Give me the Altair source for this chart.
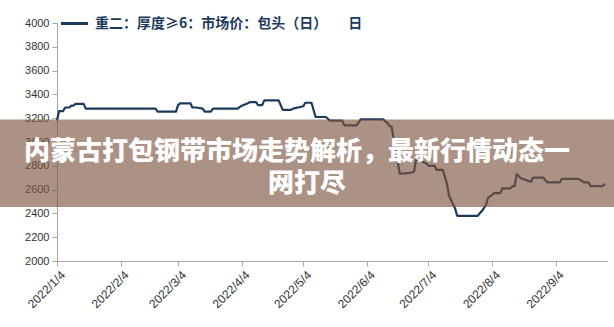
import altair as alt
import pandas as pd

# Daily market price series (yuan/ton), breakpoints of the step-like curve
dates = [
    "2022-01-04", "2022-01-05", "2022-01-07", "2022-01-08", "2022-01-10", "2022-01-11",
    "2022-01-12", "2022-01-13", "2022-01-17", "2022-01-18", "2022-02-21", "2022-02-22",
    "2022-03-03", "2022-03-04", "2022-03-05", "2022-03-10", "2022-03-11", "2022-03-13",
    "2022-03-16", "2022-03-17", "2022-03-20", "2022-03-21", "2022-04-02", "2022-04-04",
    "2022-04-07", "2022-04-08", "2022-04-11", "2022-04-12", "2022-04-14", "2022-04-15",
    "2022-04-22", "2022-04-24", "2022-04-28", "2022-04-29", "2022-05-04", "2022-05-05",
    "2022-05-08", "2022-05-10", "2022-05-15", "2022-05-17", "2022-05-23", "2022-05-24",
    "2022-05-30", "2022-06-01", "2022-06-12", "2022-06-14", "2022-06-15", "2022-06-16",
    "2022-06-20", "2022-06-21", "2022-06-25", "2022-06-27", "2022-06-28", "2022-06-29",
    "2022-07-03", "2022-07-04", "2022-07-07", "2022-07-08", "2022-07-11", "2022-07-13",
    "2022-07-14", "2022-07-17", "2022-07-18", "2022-07-28", "2022-07-30", "2022-08-01",
    "2022-08-02", "2022-08-04", "2022-08-05", "2022-08-08", "2022-08-09", "2022-08-13",
    "2022-08-14", "2022-08-15", "2022-08-16", "2022-08-18", "2022-08-23", "2022-08-24",
    "2022-08-29", "2022-08-31", "2022-09-06", "2022-09-07", "2022-09-15", "2022-09-17",
    "2022-09-18", "2022-09-20", "2022-09-21", "2022-09-27", "2022-09-28",
]
prices = [
    3180, 3260, 3260, 3290, 3290, 3305,
    3305, 3320, 3320, 3280, 3280, 3255,
    3255, 3310, 3325, 3325, 3290, 3290,
    3280, 3255, 3255, 3280, 3280, 3305,
    3325, 3335, 3335, 3310, 3310, 3350,
    3350, 3270, 3270, 3280, 3300, 3330,
    3330, 3210, 3210, 3180, 3180, 3140,
    3140, 3190, 3190, 3160, 3135, 3130,
    2735, 2735, 2740, 2750, 2860, 2850,
    2820, 2800, 2800, 2765, 2765, 2650,
    2550, 2440, 2380, 2380, 2420, 2470,
    2530, 2555, 2570, 2570, 2610, 2610,
    2630, 2630, 2730, 2695, 2665, 2700,
    2700, 2660, 2660, 2690, 2690, 2670,
    2660, 2660, 2630, 2630, 2650,
]

series_name = "重二：厚度≥6：市场价：包头（日）\u3000\u3000日"
x_start, x_end = "2022-01-04", "2022-09-29"
tick_dates = ["2022-01-04", "2022-02-04", "2022-03-04", "2022-04-04", "2022-05-04",
              "2022-06-04", "2022-07-04", "2022-08-04", "2022-09-04"]
y_ticks = [2000, 2200, 2400, 2600, 2800, 3000, 3200, 3400, 3600, 3800, 4000]
banner_lines = ["内蒙古打包钢带市场走势解析，最新行情动态一", "网打尽"]

LINE_COLOR = "#1c3a5e"
AXIS_GRAY = "#a6a6a6"
W, H = 550, 238
PAD = {"left": 57, "top": 23, "right": 7, "bottom": 66}


def as_dt(s):
    y, m, d = (int(p) for p in s.split("-"))
    return alt.DateTime(year=y, month=m, date=d, utc=True)


df = pd.DataFrame({"date": dates, "price": prices})

x_enc = alt.X(
    "date:T",
    title=None,
    scale=alt.Scale(type="utc", domain=[as_dt(x_start), as_dt(x_end)]),
    axis=alt.Axis(
        values=[as_dt(s) for s in tick_dates],
        labelExpr="utcFormat(datum.value, '%Y/%-m/%-d')",
        labelAngle=315,
        labelAlign="right",
        labelBaseline="top",
        labelPadding=3,
        labelOffset=2,
        labelFontSize=12,
        labelFont="Liberation Sans",
        labelColor="#333333",
        labelOverlap=False,
        grid=False,
        domainColor=AXIS_GRAY,
        tickColor=AXIS_GRAY,
        tickSize=5,
    ),
)
y_enc = alt.Y(
    "price:Q",
    title=None,
    scale=alt.Scale(domain=[2000, 4000], nice=False, zero=False),
    axis=alt.Axis(
        values=y_ticks,
        format="d",
        grid=False,
        labelFontSize=11,
        labelFont="Liberation Sans",
        labelColor="#333333",
        labelPadding=3,
        labelOverlap=False,
        domainColor=AXIS_GRAY,
        tickColor=AXIS_GRAY,
        tickSize=5,
    ),
)

price_line = alt.Chart(df).mark_line(
    color=LINE_COLOR, strokeWidth=2.2, strokeJoin="round"
).encode(x=x_enc, y=y_enc)

# Hand-drawn legend at the top of the plot area
legend_df = pd.DataFrame({"label": [series_name]})
legend_swatch = alt.Chart(legend_df).mark_rule(
    color=LINE_COLOR, strokeWidth=3
).encode(x=alt.value(4), x2=alt.value(31), y=alt.value(0.5))
legend_label = alt.Chart(legend_df).mark_text(
    align="left", baseline="middle", fontSize=14, fontWeight="bold",
    font="Noto Sans CJK SC", color=LINE_COLOR,
).encode(x=alt.value(38), y=alt.value(1), text="label:N")

# Translucent headline band across the full width
band_df = pd.DataFrame({"line1": [banner_lines[0]], "line2": [banner_lines[1]]})
band = alt.Chart(band_df).mark_rect(
    color="rgb(125,85,64)", opacity=0.64
).encode(x=alt.value(-PAD["left"]), x2=alt.value(W + PAD["right"]),
         y=alt.value(96.5), y2=alt.value(184))
band_text1 = alt.Chart(band_df).mark_text(
    align="center", baseline="middle", fontSize=26, fontWeight=900,
    font="Noto Sans CJK SC", color="white",
).encode(x=alt.value(240), y=alt.value(129), text="line1:N")
band_text2 = alt.Chart(band_df).mark_text(
    align="center", baseline="middle", fontSize=26, fontWeight=900,
    font="Noto Sans CJK SC", color="white",
).encode(x=alt.value(250), y=alt.value(161), text="line2:N")

chart = alt.layer(
    price_line, legend_swatch, legend_label, band, band_text1, band_text2
).properties(
    width=W,
    height=H,
    autosize=alt.AutoSizeParams(type="none"),
    padding=PAD,
    background="white",
).configure_view(stroke=None)

chart.save("out.html", embed_options={"renderer": "svg", "actions": False})
